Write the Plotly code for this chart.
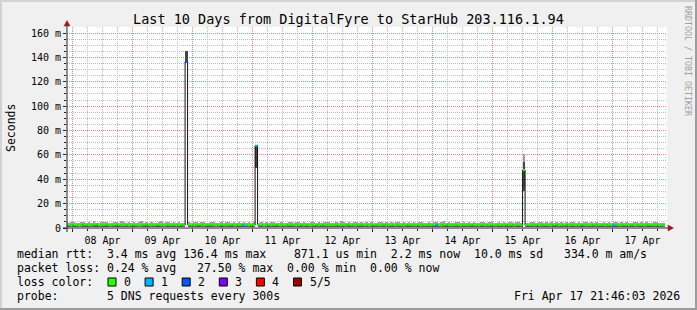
import plotly.graph_objects as go
from datetime import datetime, timedelta

# ---------------- data ----------------
FIRST_BIN = datetime(2026, 4, 7, 21, 0)     # hourly consolidated bins
END_TIME = datetime(2026, 4, 17, 21, 46, 3)
START_TIME = datetime(2026, 4, 7, 21, 46, 3)

median_ms = [
    2.4, 2.6, 2.2, 2.8, 2.5, 2.1, 2.3, 2.9, 2.6, 2.4, 2.2, 2.7, 3.0, 2.5, 2.3, 2.6, 2.8, 2.4, 2.2, 2.5, 2.9, 2.7, 2.3, 2.4,
    2.6, 2.2, 2.5, 2.8, 2.4, 2.1, 2.3, 2.7, 2.9, 2.5, 2.2, 2.4, 2.6, 2.8, 2.3, 2.1, 2.5, 2.7, 2.4, 2.6, 2.2, 2.5, 2.8, 2.3,
    136.4, 2.7, 2.5, 2.3, 2.6, 2.9, 2.4, 2.2, 2.5, 2.8, 2.6, 2.3, 2.1, 2.4, 2.7, 2.5, 2.2, 2.6, 2.8, 2.4, 2.3, 2.5, 2.7, 2.4,
    2.5, 2.3, 2.6, 2.4, 67.5, 2.8, 2.5, 2.2, 2.4, 2.7, 2.3, 2.6, 2.9, 2.4, 2.2, 2.5, 2.3, 2.7, 2.6, 2.4, 2.1, 2.5, 2.8, 2.3,
    2.6, 2.4, 2.2, 2.5, 2.7, 2.3, 2.6, 2.8, 2.4, 2.2, 2.5, 2.3, 2.7, 2.5, 2.4, 2.6, 2.2, 2.8, 2.5, 2.3, 2.4, 2.6, 2.7, 2.3,
    2.5, 2.2, 2.4, 2.7, 2.6, 2.3, 2.5, 2.8, 2.2, 2.4, 2.6, 2.5, 2.3, 2.7, 2.4, 2.2, 2.6, 2.8, 2.5, 2.3, 2.4, 2.6, 2.2, 2.5,
    2.4, 2.6, 2.3, 2.5, 2.7, 2.4, 2.2, 2.6, 2.8, 2.5, 2.3, 2.4, 2.7, 2.5, 2.2, 2.6, 2.4, 2.3, 2.8, 2.5, 2.4, 2.2, 2.6, 2.5,
    2.3, 2.5, 2.7, 2.4, 2.2, 2.6, 2.5, 2.3, 2.8, 2.4, 2.6, 2.2, 2.5, 2.7, 2.3, 47.6, 2.4, 2.6, 2.5, 2.2, 2.7, 2.4, 2.3, 2.6,
    2.5, 2.4, 2.2, 2.6, 2.8, 2.3, 2.5, 2.4, 2.7, 2.2, 2.6, 2.5, 2.3, 2.4, 2.8, 2.6, 2.2, 2.5, 2.4, 2.7, 2.3, 2.5, 2.6, 2.4,
    2.3, 2.6, 2.4, 2.5, 2.7, 2.2, 2.4, 2.6, 2.5, 2.3, 2.8, 2.4, 2.2, 2.6, 2.5, 2.3, 2.4, 2.7, 2.5, 2.3, 2.6, 2.4, 2.5, 2.2,
]

smoke_hi_ms = [
    4.6, 4.2, 5.1, 4.8, 3.9, 4.4, 5.3, 4.7, 4.1, 4.9, 4.5, 5.6, 4.3, 4.0, 4.8, 5.2, 4.6, 4.1, 4.4, 5.0, 4.7, 4.2, 5.5, 4.6,
    4.3, 4.9, 4.5, 5.2, 4.0, 4.6, 5.8, 4.4, 4.7, 4.1, 5.0, 4.5, 4.2, 4.8, 5.4, 4.3, 4.6, 4.9, 4.1, 5.1, 4.4, 4.7, 4.0, 4.5,
    145.0, 4.8, 4.3, 5.0, 4.6, 4.1, 4.9, 5.3, 4.4, 4.2, 4.7, 5.1, 4.5, 4.0, 4.8, 4.3, 5.2, 4.6, 4.1, 4.9, 4.4, 5.0, 4.2, 4.6,
    4.4, 4.9, 4.2, 4.7, 68.5, 4.5, 5.1, 4.3, 4.8, 4.0, 4.6, 5.3, 4.4, 4.1, 4.9, 4.5, 4.2, 5.0, 4.7, 4.3, 4.6, 5.2, 4.1, 4.8,
    4.5, 4.1, 4.8, 5.2, 4.3, 4.7, 4.0, 4.9, 4.6, 5.1, 4.2, 4.5, 4.8, 4.3, 5.4, 4.6, 4.1, 4.9, 4.4, 4.7, 5.0, 4.3, 4.6, 4.2,
    4.7, 4.3, 5.0, 4.5, 4.1, 4.8, 5.2, 4.4, 4.6, 4.0, 4.9, 4.3, 5.1, 4.6, 4.2, 4.7, 4.5, 5.0, 4.1, 4.8, 4.4, 4.6, 5.3, 4.2,
    4.4, 4.8, 4.1, 5.0, 4.6, 4.3, 4.9, 5.5, 4.2, 4.7, 4.5, 4.0, 4.8, 5.1, 4.4, 4.6, 4.2, 4.9, 4.3, 5.2, 4.5, 4.1, 4.7, 4.6,
    4.3, 4.7, 5.0, 4.4, 4.1, 4.8, 4.5, 5.2, 4.2, 4.6, 4.9, 4.3, 4.7, 5.1, 4.4, 60.7, 4.5, 4.2, 4.9, 4.6, 4.1, 4.8, 5.0, 4.4,
    4.6, 4.2, 4.9, 4.5, 5.1, 4.3, 4.7, 4.0, 4.8, 4.4, 5.2, 4.6, 4.1, 4.9, 4.3, 4.7, 5.0, 4.2, 4.6, 4.4, 4.8, 4.1, 4.5, 4.9,
    4.2, 4.7, 4.4, 5.0, 4.6, 4.3, 4.8, 4.1, 4.9, 4.5, 4.2, 5.1, 4.6, 4.4, 4.7, 4.0, 4.8, 4.5, 4.3, 4.9, 4.6, 4.2, 4.5, 4.3,
]

smoke_lo_ms = [
    1.2, 1.4, 1.1, 1.5, 1.3, 1.0, 1.2, 1.6, 1.4, 1.1, 1.3, 1.5, 1.2, 1.4, 1.1, 1.3, 1.6, 1.2, 1.0, 1.4, 1.5, 1.3, 1.1, 1.2,
    1.4, 1.1, 1.3, 1.5, 1.2, 1.0, 1.2, 1.4, 1.6, 1.3, 1.1, 1.2, 1.4, 1.5, 1.1, 1.0, 1.3, 1.4, 1.2, 1.5, 1.1, 1.3, 1.4, 1.2,
    135.5, 1.4, 1.3, 1.1, 1.4, 1.6, 1.2, 1.0, 1.3, 1.5, 1.4, 1.2, 1.0, 1.2, 1.4, 1.3, 1.1, 1.4, 1.5, 1.2, 1.1, 1.3, 1.4, 1.2,
    1.3, 1.1, 1.4, 1.2, 49.0, 1.5, 1.3, 1.1, 1.2, 1.4, 1.1, 1.3, 1.6, 1.2, 1.0, 1.3, 1.1, 1.4, 1.3, 1.2, 1.0, 1.3, 1.5, 1.1,
    1.4, 1.2, 1.0, 1.3, 1.4, 1.1, 1.3, 1.5, 1.2, 1.0, 1.3, 1.1, 1.4, 1.3, 1.2, 1.4, 1.0, 1.5, 1.3, 1.1, 1.2, 1.4, 1.4, 1.1,
    1.3, 1.0, 1.2, 1.4, 1.3, 1.1, 1.3, 1.5, 1.0, 1.2, 1.4, 1.3, 1.1, 1.4, 1.2, 1.0, 1.3, 1.5, 1.3, 1.1, 1.2, 1.4, 1.0, 1.3,
    1.2, 1.4, 1.1, 1.3, 1.4, 1.2, 1.0, 1.4, 1.5, 1.3, 1.1, 1.2, 1.4, 1.3, 1.0, 1.4, 1.2, 1.1, 1.5, 1.3, 1.2, 1.0, 1.4, 1.3,
    1.1, 1.3, 1.4, 1.2, 1.0, 1.4, 1.3, 1.1, 1.5, 1.2, 1.4, 1.0, 1.3, 1.4, 1.1, 30.6, 1.2, 1.4, 1.3, 1.0, 1.4, 1.2, 1.1, 1.4,
    1.3, 1.2, 1.0, 1.4, 1.5, 1.1, 1.3, 1.2, 1.4, 1.0, 1.4, 1.3, 1.1, 1.2, 1.5, 1.4, 1.0, 1.3, 1.2, 1.4, 1.1, 1.3, 1.4, 1.2,
    1.1, 1.4, 1.2, 1.3, 1.4, 1.0, 1.2, 1.4, 1.3, 1.1, 1.5, 1.2, 1.0, 1.4, 1.3, 1.1, 1.2, 1.4, 1.3, 1.1, 1.4, 1.2, 1.3, 1.0,
]

# dense smoke core of the three spikes (bin index, lo, hi)
core_bins = [48, 76, 183]
core_lo_ms = [136.0, 49.0, 34.0]
core_hi_ms = [145.0, 68.0, 54.0]

# bins with packet loss (bin index, lost pings out of 5)
loss_bins = [48, 71, 76, 148, 219]
loss_count = [2, 1, 1, 1, 1]

loss_colors = ["#26ff00", "#00b8ff", "#0059ff", "#7e00ff", "#ff0000", "#a10000"]
loss_labels = ["0", "1", "2", "3", "4", "5/5"]

y_tickvals = [0, 20, 40, 60, 80, 100, 120, 140, 160]
y_ticktext = ["0", "20 m", "40 m", "60 m", "80 m", "100 m", "120 m", "140 m", "160 m"]

title_text = "Last 10 Days from DigitalFyre to StarHub 203.116.1.94"
legend_rtt = "median rtt:  3.4 ms avg 136.4 ms max    871.1 us min  2.2 ms now  10.0 ms sd   334.0 m am/s"
legend_loss = "packet loss: 0.24 % avg   27.50 % max  0.00 % min  0.00 % now"
legend_color = "loss color:"
legend_probe = "probe:       5 DNS requests every 300s"
stamp_text = "Fri Apr 17 21:46:03 2026"
watermark = "RRDTOOL / TOBI OETIKER"

# ---------------- geometry helpers (pixel -> paper) ----------------
W, H = 697, 310
PL, PR, PT, PB = 67, 667, 27, 228


def px(x):
    return (x - PL) / (PR - PL)


def py(y):
    return (PB - y) / (PB - PT)


FONT = "DejaVu Sans Mono"
HOUR_MS = 3600000

n = len(median_ms)
starts = [FIRST_BIN + timedelta(hours=i) for i in range(n)]
centers = [s + timedelta(minutes=30) for s in starts]
ends = [s + timedelta(hours=1) for s in starts]

loss_of = [0] * n
for b, c in zip(loss_bins, loss_count):
    loss_of[b] = c

fig = go.Figure()

# smoke (light outer band)
fig.add_trace(go.Bar(
    x=centers, base=smoke_lo_ms,
    y=[h - l for h, l in zip(smoke_hi_ms, smoke_lo_ms)],
    width=HOUR_MS, marker=dict(color="#a0a0a0", line=dict(width=0)),
    hoverinfo="skip", showlegend=False))
# smoke (darker lower half)
fig.add_trace(go.Bar(
    x=centers, base=smoke_lo_ms,
    y=[m - l for m, l in zip(median_ms, smoke_lo_ms)],
    width=HOUR_MS, marker=dict(color="#555555", line=dict(width=0)),
    hoverinfo="skip", showlegend=False))
# dense core of spikes
fig.add_trace(go.Bar(
    x=[centers[b] for b in core_bins], base=core_lo_ms,
    y=[h - l for h, l in zip(core_hi_ms, core_lo_ms)],
    width=HOUR_MS, marker=dict(color="#454545", line=dict(width=0)),
    hoverinfo="skip", showlegend=False))

# median step line (dark verticals)
fig.add_trace(go.Scatter(
    x=starts + [ends[-1]], y=median_ms + [median_ms[-1]],
    mode="lines", line=dict(color="#111111", width=1, shape="hv"),
    hoverinfo="skip", showlegend=False))

# median horizontals coloured by loss
for lvl, col in enumerate(loss_colors):
    xs, ys = [], []
    for i in range(n):
        if loss_of[i] == lvl:
            xs += [starts[i], ends[i], None]
            ys += [median_ms[i], median_ms[i], None]
    if xs:
        fig.add_trace(go.Scatter(x=xs, y=ys, mode="lines",
                                 line=dict(color=col, width=2),
                                 hoverinfo="skip", showlegend=False))

GRID_MINOR = "#bdbdbd"
GRID_MAJOR = "#e08a8a"
AXIS_COL = "#222222"
ARROW_COL = "#9a1a1a"

fig.update_layout(
    width=W, height=H,
    margin=dict(l=PL, r=W - PR, t=PT, b=H - PB, autoexpand=False),
    paper_bgcolor="#f0f0f0", plot_bgcolor="#ffffff",
    barmode="overlay", bargap=0,
    showlegend=False,
    font=dict(family=FONT, size=10, color="#000000"),
    xaxis=dict(
        type="date",
        range=[START_TIME, END_TIME],
        tickmode="linear", tick0="2026-04-08", dtick=86400000,
        tickformat="%d %b", ticklabelmode="period",
        showgrid=True, gridcolor=GRID_MAJOR, griddash="1px,1px", gridwidth=1,
        ticks="outside", ticklen=3, tickcolor=AXIS_COL,
        minor=dict(dtick=6 * HOUR_MS, tick0="2026-04-08", showgrid=True,
                   gridcolor=GRID_MINOR, griddash="1px,1px",
                   ticks="outside", ticklen=2, tickcolor=AXIS_COL),
        showline=False, zeroline=False,
        tickfont=dict(family=FONT, size=10, color="#000000"),
        fixedrange=True,
    ),
    yaxis=dict(
        range=[0, 160 * (PB - PT) / 195.0],
        tickmode="array", tickvals=y_tickvals, ticktext=y_ticktext,
        showgrid=True, gridcolor=GRID_MAJOR, griddash="1px,1px", gridwidth=1,
        ticks="outside", ticklen=3, tickcolor=AXIS_COL,
        minor=dict(tickmode="linear", tick0=0, dtick=5, showgrid=True,
                   gridcolor=GRID_MINOR, griddash="1px,1px",
                   ticks="outside", ticklen=2, tickcolor=AXIS_COL),
        showline=False, zeroline=False,
        tickfont=dict(family=FONT, size=10, color="#000000"),
        fixedrange=True,
    ),
)

shapes = []
# border (3D frame)
shapes.append(dict(type="rect", xref="paper", yref="paper", x0=px(0), x1=px(W), y0=py(0), y1=py(2),
                   fillcolor="#d2d2d2", line=dict(width=0), layer="below"))
shapes.append(dict(type="rect", xref="paper", yref="paper", x0=px(0), x1=px(2), y0=py(0), y1=py(H),
                   fillcolor="#d2d2d2", line=dict(width=0), layer="below"))
shapes.append(dict(type="rect", xref="paper", yref="paper", x0=px(W - 2), x1=px(W), y0=py(0), y1=py(H),
                   fillcolor="#9c9c9c", line=dict(width=0), layer="below"))
shapes.append(dict(type="rect", xref="paper", yref="paper", x0=px(0), x1=px(W), y0=py(H - 2), y1=py(H),
                   fillcolor="#9c9c9c", line=dict(width=0), layer="below"))
# axes
shapes.append(dict(type="line", xref="paper", yref="paper", x0=px(63), x1=px(670), y0=py(228), y1=py(228),
                   line=dict(color=AXIS_COL, width=1)))
shapes.append(dict(type="line", xref="paper", yref="paper", x0=px(67), x1=px(67), y0=py(232), y1=py(23),
                   line=dict(color=AXIS_COL, width=1)))
# arrows
shapes.append(dict(type="path", xref="paper", yref="paper",
                   path=f"M {px(64)} {py(26)} L {px(70)} {py(26)} L {px(67)} {py(20.5)} Z",
                   fillcolor=ARROW_COL, line=dict(color=ARROW_COL, width=0.5)))
shapes.append(dict(type="path", xref="paper", yref="paper",
                   path=f"M {px(668)} {py(225)} L {px(668)} {py(231)} L {px(673.5)} {py(228)} Z",
                   fillcolor=ARROW_COL, line=dict(color=ARROW_COL, width=0.5)))

annotations = []


def text_at(x, y, s, size, xanchor="left", color="#000000", angle=0):
    annotations.append(dict(
        xref="paper", yref="paper", x=px(x), y=py(y), text=s.replace(" ", "\u00a0"),
        showarrow=False, xanchor=xanchor, yanchor="middle", borderpad=0,
        textangle=angle, font=dict(family=FONT, size=size, color=color)))


text_at(348.5, 19, title_text, 13.5, xanchor="center")
text_at(11, 128, "Seconds", 11.5, xanchor="center", angle=-90)
text_at(688, 61, watermark, 8.3, xanchor="center", color="#a0a0a0", angle=90)

text_at(16, 254, legend_rtt, 11.5)
text_at(16, 268, legend_loss, 11.5)
text_at(16, 282, legend_color, 11.5)
text_at(16, 296, legend_probe, 11.5)
text_at(681, 296, stamp_text, 11.5, xanchor="right")

for k, (col, lab) in enumerate(zip(loss_colors, loss_labels)):
    bx = 108 + 37.1 * k
    shapes.append(dict(type="rect", xref="paper", yref="paper",
                       x0=px(bx), x1=px(bx + 8), y0=py(286), y1=py(278),
                       fillcolor=col, line=dict(color="#000000", width=1)))
    text_at(bx + 15, 282, lab, 11.5)

fig.update_layout(shapes=shapes, annotations=annotations)

fig.write_html("out.html")
